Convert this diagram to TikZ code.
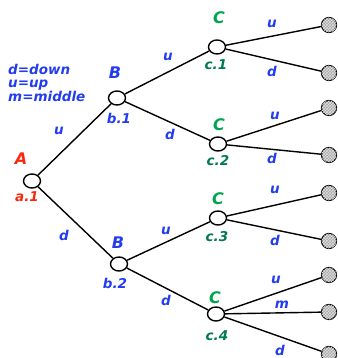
\documentclass[tikz,border=0pt]{standalone}
\usepackage{fontspec}
\setmainfont{DejaVu Sans}
\usetikzlibrary{shapes.geometric,patterns}
\definecolor{lblue}{RGB}{35,60,240}
\definecolor{lred}{RGB}{250,40,10}
\definecolor{lgreen}{RGB}{0,165,80}
\definecolor{dgreen}{RGB}{0,120,80}
\tikzset{
  x=1pt,y=-1pt,
  dnode/.style={draw=black,ellipse,fill=white,line width=1.4pt,minimum width=17pt,minimum height=14pt,inner sep=0pt},
  leaf/.style={draw=black,circle,line width=1.2pt,minimum size=15pt,inner sep=0pt,fill=gray!70,postaction={pattern=crosshatch,pattern color=white!75!gray}},
  edge/.style={line width=1.4pt,black},
  lab/.style={font=\fontsize{13.5}{15}\selectfont\bfseries\itshape,inner sep=0pt},
  big/.style={font=\fontsize{16}{18}\selectfont\bfseries\itshape,inner sep=0pt},
}
\begin{document}
\begin{tikzpicture}
\useasboundingbox (0,0) rectangle (337,358);
% legend
\node[lab,lblue,anchor=west,align=left,font=\fontsize{13.5}{13}\selectfont\bfseries\itshape] (leg) at (8,83) {d=down\\u=up\\m=middle};
% decision nodes
\node[dnode] (a) at (32,181) {};
\node[dnode] (b1) at (117,98) {};
\node[dnode] (b2) at (119,264) {};
\node[dnode] (c1) at (217,47) {};
\node[dnode] (c2) at (218,144) {};
\node[dnode] (c3) at (218,218) {};
\node[dnode] (c4) at (216,314) {};
% leaves
\node[leaf] (l1) at (329,25) {};
\node[leaf] (l2) at (329,73) {};
\node[leaf] (l3) at (329,108) {};
\node[leaf] (l4) at (329,155) {};
\node[leaf] (l5) at (329,193) {};
\node[leaf] (l6) at (329,241) {};
\node[leaf] (l7) at (329,275) {};
\node[leaf] (l8) at (329,312) {};
\node[leaf] (l9) at (329,354) {};
% edges
\draw[edge] (a) -- (b1);
\draw[edge] (a) -- (b2);
\draw[edge] (b1) -- (c1);
\draw[edge] (b1) -- (c2);
\draw[edge] (b2) -- (c3);
\draw[edge] (b2) -- (c4);
\draw[edge] (c1) -- (l1);
\draw[edge] (c1) -- (l2);
\draw[edge] (c2) -- (l3);
\draw[edge] (c2) -- (l4);
\draw[edge] (c3) -- (l5);
\draw[edge] (c3) -- (l6);
\draw[edge] (c4) -- (l7);
\draw[edge] (c4) -- (l8);
\draw[edge] (c4) -- (l9);
% node labels
\node[big,lred] (tA) at (21,159) {A};
\node[lab,lred] (sA) at (27,197) {a.1};
\node[big,lblue] (tB1) at (115,73) {B};
\node[lab,lblue] (sB1) at (119,118) {b.1};
\node[big,lblue] (tB2) at (118,243) {B};
\node[lab,lblue] (sB2) at (115,283) {b.2};
\node[big,lgreen] (tC1) at (219,18) {C};
\node[lab,dgreen] (sC1) at (216,65) {c.1};
\node[big,lgreen] (tC2) at (219,125) {C};
\node[lab,dgreen] (sC2) at (218,161) {c.2};
\node[big,lgreen] (tC3) at (218,199) {C};
\node[lab,dgreen] (sC3) at (217,237) {c.3};
\node[big,lgreen] (tC4) at (215,298) {C};
\node[lab,dgreen] (sC4) at (217,336) {c.4};
% edge labels
\node[lab,lblue] (e1) at (59,131) {u};
\node[lab,lblue] (e2) at (64,235) {d};
\node[lab,lblue] (e3) at (168,57) {u};
\node[lab,lblue] (e4) at (170,134) {d};
\node[lab,lblue] (e5) at (166,231) {u};
\node[lab,lblue] (e6) at (166,300) {d};
\node[lab,lblue] (e7) at (272,24) {u};
\node[lab,lblue] (e8) at (272,71) {d};
\node[lab,lblue] (e9) at (275,116) {u};
\node[lab,lblue] (e10) at (272,158) {d};
\node[lab,lblue] (e11) at (275,190) {u};
\node[lab,lblue] (e12) at (275,240) {d};
\node[lab,lblue] (e13) at (276,280) {u};
\node[lab,lblue] (e14) at (282,305) {m};
\node[lab,lblue] (e15) at (280,350) {d};
\end{tikzpicture}
\end{document}
